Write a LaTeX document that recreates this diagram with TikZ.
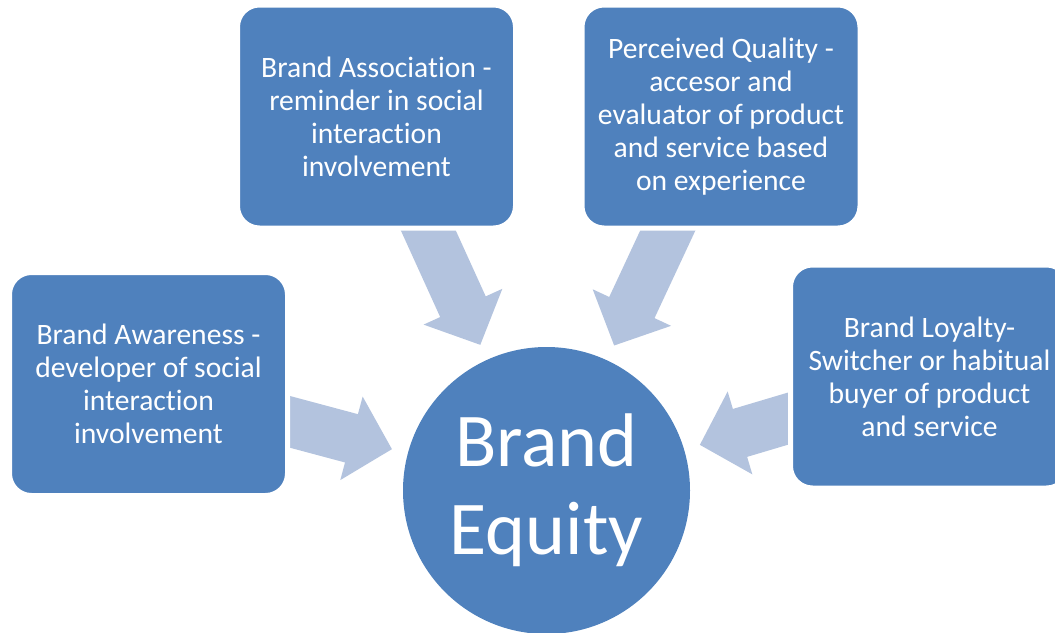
\documentclass[tikz,border=0pt]{standalone}
\usepackage{fontspec}
\setmainfont{Carlito}[Ligatures={NoCommon,NoContextual,NoRare},RawFeature={-calt}]
\usetikzlibrary{arrows.meta,backgrounds}
\definecolor{cbox}{RGB}{79,129,189}
\definecolor{carrow}{RGB}{179,195,222}
\tikzset{radial/.style={x=0.5pt,y=-0.5pt},
  facet/.style={rectangle,rounded corners=11pt,fill=cbox,draw=white,line width=2.5pt,
    minimum width=139pt,minimum height=111.5pt,inner sep=0pt,text=white,align=center,
    font=\fontsize{14.8}{16.5}\selectfont},
  hub/.style={circle,fill=cbox,minimum size=143.5pt,inner sep=0pt,text=white,
    align=center,font=\fontsize{38}{44}\selectfont},
  pull/.style={carrow,line width=25pt,shorten >=8pt,-{Triangle[width=42pt,length=21pt]}}}

\begin{document}
\begin{tikzpicture}[radial]
  \useasboundingbox (0,0) rectangle (1055,632);
  \node[hub] (eq) at (546.5,490.5) {Brand\\Equity};
  \node[facet] (aw) at (148.5,384) {Brand Awareness -\\developer of social\\interaction\\involvement};
  \node[facet] (as) at (376.5,116.5) {Brand Association -\\reminder in social\\interaction\\involvement};
  \node[facet] (pq) at (721,116.5) {Perceived Quality -\\accesor and\\evaluator of product\\and service based\\on experience};
  \node[facet] (lo) at (929.5,376.5) {Brand Loyalty-\\Switcher or habitual\\buyer of product\\and service};
  % block arrows sit behind the boxes
  \begin{scope}[on background layer]
    \foreach \f in {aw,as,pq,lo} \draw[pull] (\f.center) -- (eq);
  \end{scope}
\end{tikzpicture}
\end{document}
